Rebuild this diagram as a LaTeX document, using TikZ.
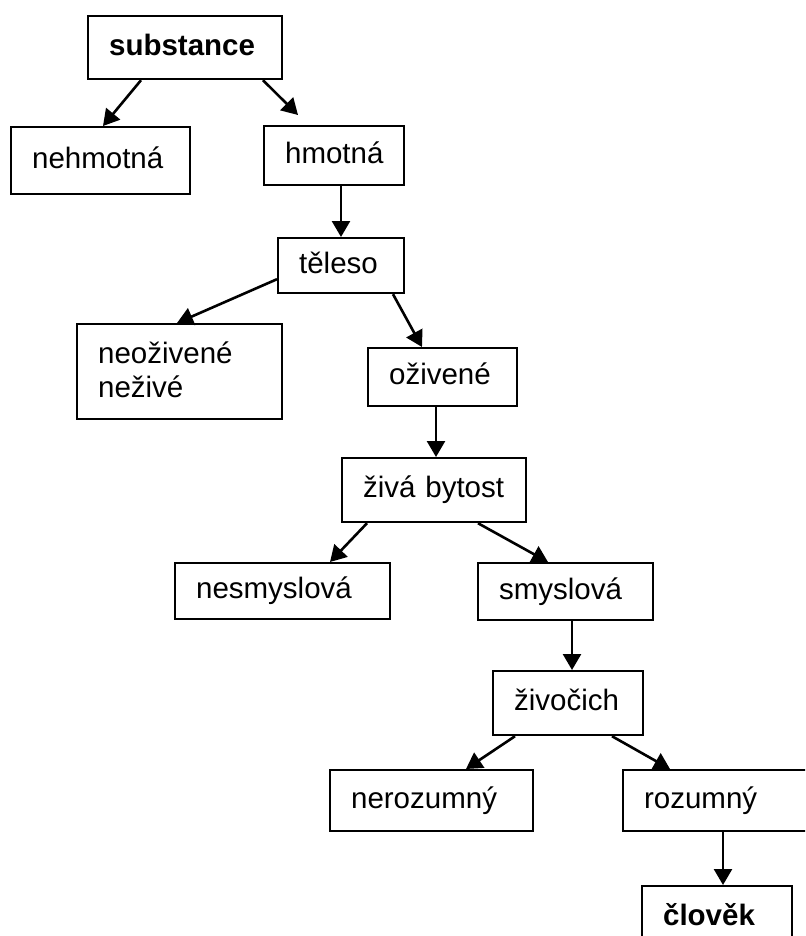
\documentclass[tikz,border=0pt]{standalone}
\usepackage{fontspec}
\setmainfont{Liberation Sans}
\usepackage{tikz}
\usetikzlibrary{arrows.meta}

\tikzset{
  box/.style={draw,line width=2.2pt,anchor=north west,inner xsep=21pt,inner ysep=0pt,
    align=left,text height=21pt,text depth=6pt,
    font=\fontsize{29.5}{34}\selectfont},
  arr/.style={line width=2.6pt,-{Triangle[length=16pt,width=18pt]}}
}

\begin{document}
\begin{tikzpicture}[x=1pt,y=-1pt]
		\useasboundingbox (0,0) rectangle (805,936);
		\fill [white] (0,0) rectangle (805,936);
		\clip (0,0) rectangle (805,936);
		\node [box,text width=152pt,minimum height=63pt,font=\fontsize{29.5}{34}\selectfont\bfseries] (subst) at (87,15) {substance};
		\node [box,text width=137pt,minimum height=67pt] (nehm) at (10,126) {nehmotná};
		\node [box,text width=98pt,minimum height=59pt] (hmot) at (263,125) {hmotná};
		\node [box,text width=84pt,minimum height=55pt] (tel) at (277,237) {těleso};
		\node [box,text width=163pt,minimum height=95pt,text depth=38pt] (neoz) at (76,323) {neoživené\\neživé};
		\node [box,text width=107pt,minimum height=58pt] (oziv) at (367,347) {oživené};
		\node [box,text width=142pt,minimum height=64pt] (ziva) at (341,457) {živá bytost};
		\node [box,text width=173pt,minimum height=56pt] (nesm) at (174,562) {nesmyslová};
		\node [box,text width=133pt,minimum height=57pt] (smys) at (477,562) {smyslová};
		\node [box,text width=108pt,minimum height=64pt] (zivo) at (492,670) {živočich};
		\node [box,text width=161pt,minimum height=61pt] (neroz) at (329,769) {nerozumný};
		\node [box,text width=148pt,minimum height=61pt] (roz) at (622,769) {rozumný};
		\node [box,text width=108pt,minimum height=63pt,font=\fontsize{29.5}{34}\selectfont\bfseries] (clov) at (641,885) {člověk};
		\draw [arr] ([xshift=54pt]subst.south west) -- ([xshift=93pt]nehm.north west);
		\draw [arr] ([xshift=176pt]subst.south west) -- ([xshift=35pt,yshift=10pt]hmot.north west);
		\draw [arr] ([xshift=78pt]hmot.south west) -- ([xshift=64pt]tel.north west);
		\draw [arr] ([yshift=15pt]tel.south west) -- ([xshift=101pt]neoz.north west);
		\draw [arr] ([xshift=116pt]tel.south west) -- ([xshift=55pt]oziv.north west);
		\draw [arr] ([xshift=69pt]oziv.south west) -- ([xshift=95pt]ziva.north west);
		\draw [arr] ([xshift=26pt]ziva.south west) -- ([xshift=156pt]nesm.north west);
		\draw [arr] ([xshift=137pt]ziva.south west) -- ([xshift=71pt]smys.north west);
		\draw [arr] ([xshift=95pt]smys.south west) -- ([xshift=80pt]zivo.north west);
		\draw [arr] ([xshift=23pt]zivo.south west) -- ([xshift=137pt]neroz.north west);
		\draw [arr] ([xshift=120pt]zivo.south west) -- ([xshift=48pt]roz.north west);
		\draw [arr] ([xshift=101pt]roz.south west) -- ([xshift=82pt]clov.north west);
	\end{tikzpicture}
\end{document}
